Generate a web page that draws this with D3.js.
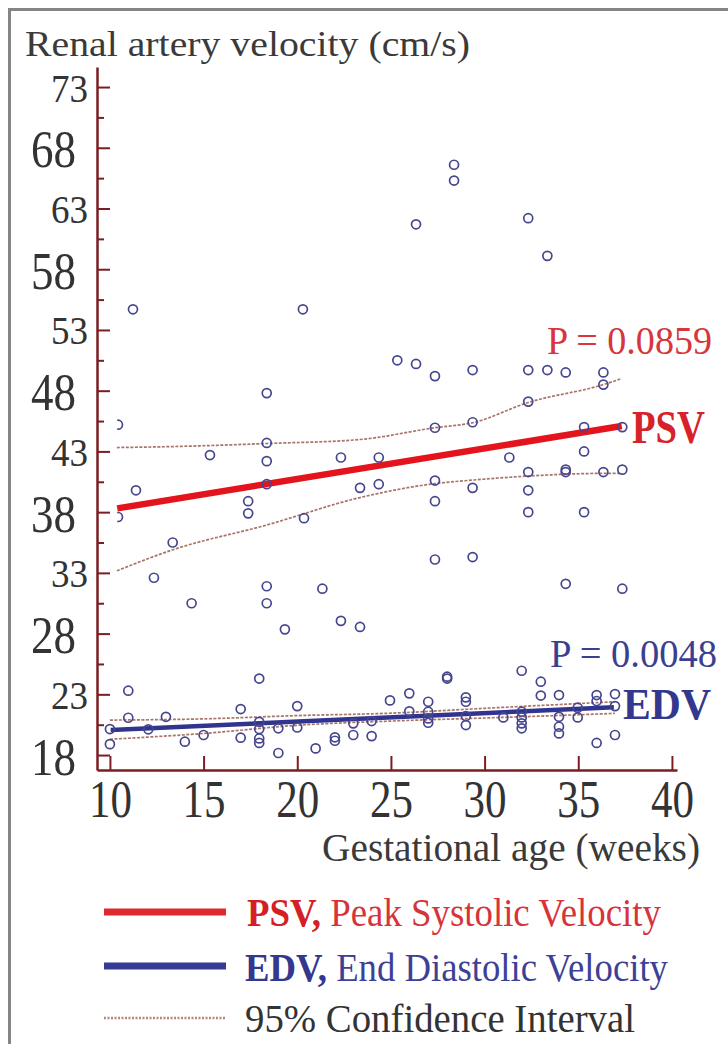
<!DOCTYPE html>
<html lang="en">
<head>
<meta charset="UTF-8">
<title>Renal artery velocity</title>
<script src="https://d3js.org/d3.v7.min.js"></script>
<style>
    body { margin: 0; background: #fff; }
    svg { display: block; }
    text { font-family: "Liberation Serif", "DejaVu Serif", serif; }
</style>
</head>
<body>
<svg id="chart" width="728" height="1044"></svg>
<script>
    // PSV scatter (weeks, cm/s)
    var psvWeeks = [10.43, 10.43, 11.39, 11.23, 12.35, 13.35, 14.36, 15.34, 17.38, 17.38,
        18.37, 18.37, 18.37, 18.37, 18.37, 18.37, 19.34, 20.3, 20.36, 21.34,
        22.33, 22.33, 23.35, 23.35, 24.35, 24.35, 25.34, 26.34, 26.34, 27.35,
        27.35, 27.35, 27.35, 27.35, 28.37, 28.37, 29.36, 29.36, 29.36, 29.36,
        31.32, 32.33, 32.33, 32.33, 32.33, 32.33, 32.33, 33.35, 33.35, 34.33,
        34.33, 34.33, 34.33, 35.31, 35.31, 35.31, 36.34, 36.34, 36.34, 37.35,
        37.35, 37.35];
    var psvValues = [45.2, 37.6, 39.8, 54.7, 32.6, 35.5, 30.5, 42.7, 38.9, 37.9,
        47.8, 43.7, 42.2, 40.3, 31.9, 30.5, 28.35, 54.7, 37.5, 31.7,
        42.5, 29.05, 40.0, 28.55, 42.5, 40.3, 50.5, 61.7, 50.2, 49.2,
        44.95, 40.6, 38.9, 34.1, 66.6, 65.3, 49.7, 45.4, 40.0, 34.3,
        42.5, 62.2, 49.7, 47.1, 41.3, 39.8, 38.0, 59.1, 49.7, 49.5,
        41.5, 41.3, 32.1, 45.0, 43.0, 38.0, 49.5, 48.5, 41.3, 45.0,
        41.5, 31.7];

    // EDV scatter
    var edvWeeks = [10.0, 10.0, 10.98, 10.98, 12.05, 12.99, 14.0, 15.0, 16.98, 16.98,
        17.97, 17.97, 17.97, 17.97, 17.97, 18.99, 18.99, 20.0, 20.0, 20.98,
        22.01, 22.01, 22.99, 22.99, 23.97, 23.97, 24.95, 25.98, 25.98, 26.99,
        26.99, 26.99, 26.99, 28.0, 28.0, 29.0, 29.0, 29.0, 29.0, 31.0,
        31.98, 31.98, 31.98, 31.98, 31.98, 33.0, 33.0, 33.97, 33.97, 33.97,
        33.97, 34.97, 34.97, 35.98, 35.98, 35.98, 36.96, 36.96, 36.96];
    var edvValues = [20.14, 18.9, 23.3, 21.07, 20.12, 21.15, 19.1, 19.65, 21.79, 19.43,
        24.3, 20.74, 20.14, 19.37, 19.0, 20.2, 18.17, 22.03, 20.27, 18.55,
        19.46, 19.18, 20.61, 19.65, 20.8, 19.56, 22.5, 23.08, 21.6, 22.39,
        21.57, 21.02, 20.66, 24.45, 24.3, 22.75, 22.39, 21.21, 20.47, 21.1,
        24.94, 21.57, 21.1, 20.61, 20.2, 24.04, 22.9, 22.94, 21.15, 20.33,
        19.78, 21.9, 21.1, 22.94, 22.45, 19.0, 23.02, 22.03, 19.65];

    // regression lines
    var psvFitWeeks = [10.39, 37.32];
    var psvFitValues = [38.31, 45.09];
    var edvFitWeeks = [10.04, 36.9];
    var edvFitValues = [20.06, 21.93];

    // 95% confidence bands
    var psvCiWeeks = [10.37, 13.35, 18.37, 23.35, 27.35, 29.36, 32.33, 36.34, 37.32];
    var psvCiUpper = [43.32, 43.4, 43.65, 43.98, 44.95, 45.36, 47.03, 48.5, 49.0];
    var psvCiLower = [33.17, 34.9, 36.94, 39.2, 40.35, 40.64, 40.97, 41.19, 41.19];
    var edvCiWeeks = [10.0, 15.0, 20.0, 25.0, 30.0, 36.96];
    var edvCiUpper = [20.88, 20.98, 21.25, 21.45, 21.85, 22.39];
    var edvCiLower = [19.3, 19.78, 20.45, 20.8, 21.05, 21.43];

    var yMajor = [18, 23, 28, 33, 38, 43, 48, 53, 58, 63, 68, 73];
    var yMinor = [20.5, 25.5, 30.5, 35.5, 40.5, 45.5, 50.5, 55.5, 60.5, 65.5, 70.5];
    var xTicks = [10, 15, 20, 25, 30, 35, 40];

    var axisColor = "#7a1e22",
        dotColor = "#46468e",
        red = "#e3141c",
        navy = "#30348f",
        ciColor = "#a87468";

    var svg = d3.select("#chart");

    var x = d3.scaleLinear().domain([9.31, 40.27]).range([97, 677]);
    var y = d3.scaleLinear().domain([16.77, 74.65]).range([770, 67]);

    // frame
    svg.append("line").attr("x1", 8).attr("x2", 728).attr("y1", 9.5).attr("y2", 9.5)
        .attr("stroke", "#858585").attr("stroke-width", 3);
    svg.append("line").attr("x1", 9.5).attr("x2", 9.5).attr("y1", 8).attr("y2", 1044)
        .attr("stroke", "#858585").attr("stroke-width", 3);

    // title
    svg.append("text").attr("x", 25).attr("y", 56)
        .attr("font-size", 36).attr("fill", "#3a3a3a")
        .attr("textLength", 445).attr("lengthAdjust", "spacingAndGlyphs")
        .text("Renal artery velocity (cm/s)");

    // y axis
    var yAxis = svg.append("g").attr("transform", "translate(97,0)")
        .call(d3.axisLeft(y).tickValues(yMajor).tickSize(-13).tickSizeOuter(0));
    svg.append("g").attr("transform", "translate(97,0)")
        .call(d3.axisLeft(y).tickValues(yMinor).tickSize(-7).tickSizeOuter(0).tickFormat(""))
        .select(".domain").remove();

    yAxis.selectAll(".tick text")
        .attr("dy", null)
        .attr("font-family", "Liberation Serif")
        .attr("fill", "#333")
        .each(function (d) {
            var big = d % 10 === 8;
            d3.select(this)
                .attr("x", big ? -21 : -9)
                .attr("y", big ? 19 : 14)
                .attr("font-size", big ? 52 : 41)
                .attr("textLength", big ? 45 : 37)
                .attr("lengthAdjust", "spacingAndGlyphs");
        });

    // x axis
    var xAxis = svg.append("g").attr("transform", "translate(0,770)")
        .call(d3.axisBottom(x).tickValues(xTicks).tickSize(-14).tickSizeOuter(0));
    xAxis.selectAll(".tick text")
        .attr("dy", null)
        .attr("y", 47)
        .attr("font-family", "Liberation Serif")
        .attr("font-size", 52)
        .attr("fill", "#333")
        .attr("textLength", 43)
        .attr("lengthAdjust", "spacingAndGlyphs");

    svg.selectAll(".domain").attr("stroke", axisColor).attr("stroke-width", 2.5);
    svg.selectAll(".tick line").attr("stroke", axisColor).attr("stroke-width", 2);

    svg.append("text").attr("x", 322).attr("y", 861)
        .attr("font-size", 40).attr("fill", "#3a3a3a")
        .attr("textLength", 378).attr("lengthAdjust", "spacingAndGlyphs")
        .text("Gestational age (weeks)");

    // confidence bands
    var band = function (ws, vs) {
        return d3.line().curve(d3.curveMonotoneX)
            .x(function (d, i) { return x(ws[i]); })
            .y(function (d, i) { return y(vs[i]); })(vs);
    };
    [[psvCiWeeks, psvCiUpper], [psvCiWeeks, psvCiLower],
     [edvCiWeeks, edvCiUpper], [edvCiWeeks, edvCiLower]].forEach(function (c) {
        svg.append("path").attr("d", band(c[0], c[1]))
            .attr("fill", "none").attr("stroke", ciColor)
            .attr("stroke-width", 1.7).attr("stroke-dasharray", "3,1.5");
    });

    // regression lines
    svg.append("path").attr("d", band(psvFitWeeks, psvFitValues))
        .attr("fill", "none").attr("stroke", red).attr("stroke-width", 6.5);
    svg.append("path").attr("d", band(edvFitWeeks, edvFitValues))
        .attr("fill", "none").attr("stroke", navy).attr("stroke-width", 4.5);

    // points
    svg.append("clipPath").attr("id", "psvClip")
        .append("rect").attr("x", x(10.39)).attr("y", 0).attr("width", 700).attr("height", 1044);

    svg.append("g").attr("clip-path", "url(#psvClip)")
        .selectAll("circle").data(psvValues).enter().append("circle")
        .attr("cx", function (d, i) { return x(psvWeeks[i]); })
        .attr("cy", function (d) { return y(d); })
        .attr("r", 4.5).attr("fill", "none")
        .attr("stroke", dotColor).attr("stroke-width", 1.7);

    svg.append("g")
        .selectAll("circle").data(edvValues).enter().append("circle")
        .attr("cx", function (d, i) { return x(edvWeeks[i]); })
        .attr("cy", function (d) { return y(d); })
        .attr("r", 4.5).attr("fill", "none")
        .attr("stroke", dotColor).attr("stroke-width", 1.7);

    // annotations
    svg.append("text").attr("x", 547).attr("y", 354)
        .attr("font-size", 41).attr("fill", "#d6363c")
        .attr("textLength", 165).attr("lengthAdjust", "spacingAndGlyphs")
        .text("P = 0.0859");
    svg.append("text").attr("x", 632).attr("y", 443)
        .attr("font-size", 46).attr("font-weight", "bold").attr("fill", "#d8222a")
        .attr("textLength", 73).attr("lengthAdjust", "spacingAndGlyphs")
        .text("PSV");
    svg.append("text").attr("x", 550).attr("y", 667)
        .attr("font-size", 41).attr("fill", "#3b3f90")
        .attr("textLength", 167).attr("lengthAdjust", "spacingAndGlyphs")
        .text("P = 0.0048");
    svg.append("text").attr("x", 623).attr("y", 719)
        .attr("font-size", 45).attr("font-weight", "bold").attr("fill", "#33378e")
        .attr("textLength", 88).attr("lengthAdjust", "spacingAndGlyphs")
        .text("EDV");

    // legend
    var legend = svg.append("g");
    legend.append("line").attr("x1", 104).attr("x2", 226).attr("y1", 912).attr("y2", 912)
        .attr("stroke", "#e0282f").attr("stroke-width", 7);
    legend.append("line").attr("x1", 104).attr("x2", 226).attr("y1", 966).attr("y2", 966)
        .attr("stroke", "#373b95").attr("stroke-width", 7);
    legend.append("line").attr("x1", 104).attr("x2", 226).attr("y1", 1018).attr("y2", 1018)
        .attr("stroke", "#b8877a").attr("stroke-width", 2.5).attr("stroke-dasharray", "2,1.5");

    var t1 = legend.append("text").attr("x", 247).attr("y", 926)
        .attr("font-size", 40).attr("fill", "#d8333a")
        .attr("textLength", 414).attr("lengthAdjust", "spacingAndGlyphs");
    t1.append("tspan").attr("font-weight", "bold").attr("fill", "#d41f27").text("PSV,");
    t1.append("tspan").text(" Peak Systolic Velocity");

    var t2 = legend.append("text").attr("x", 245).attr("y", 981)
        .attr("font-size", 40).attr("fill", "#3d4196")
        .attr("textLength", 423).attr("lengthAdjust", "spacingAndGlyphs");
    t2.append("tspan").attr("font-weight", "bold").attr("fill", "#33378e").text("EDV,");
    t2.append("tspan").text(" End Diastolic Velocity");

    legend.append("text").attr("x", 245).attr("y", 1032)
        .attr("font-size", 40).attr("fill", "#333")
        .attr("textLength", 390).attr("lengthAdjust", "spacingAndGlyphs")
        .text("95% Confidence Interval");
</script>
</body>
</html>
